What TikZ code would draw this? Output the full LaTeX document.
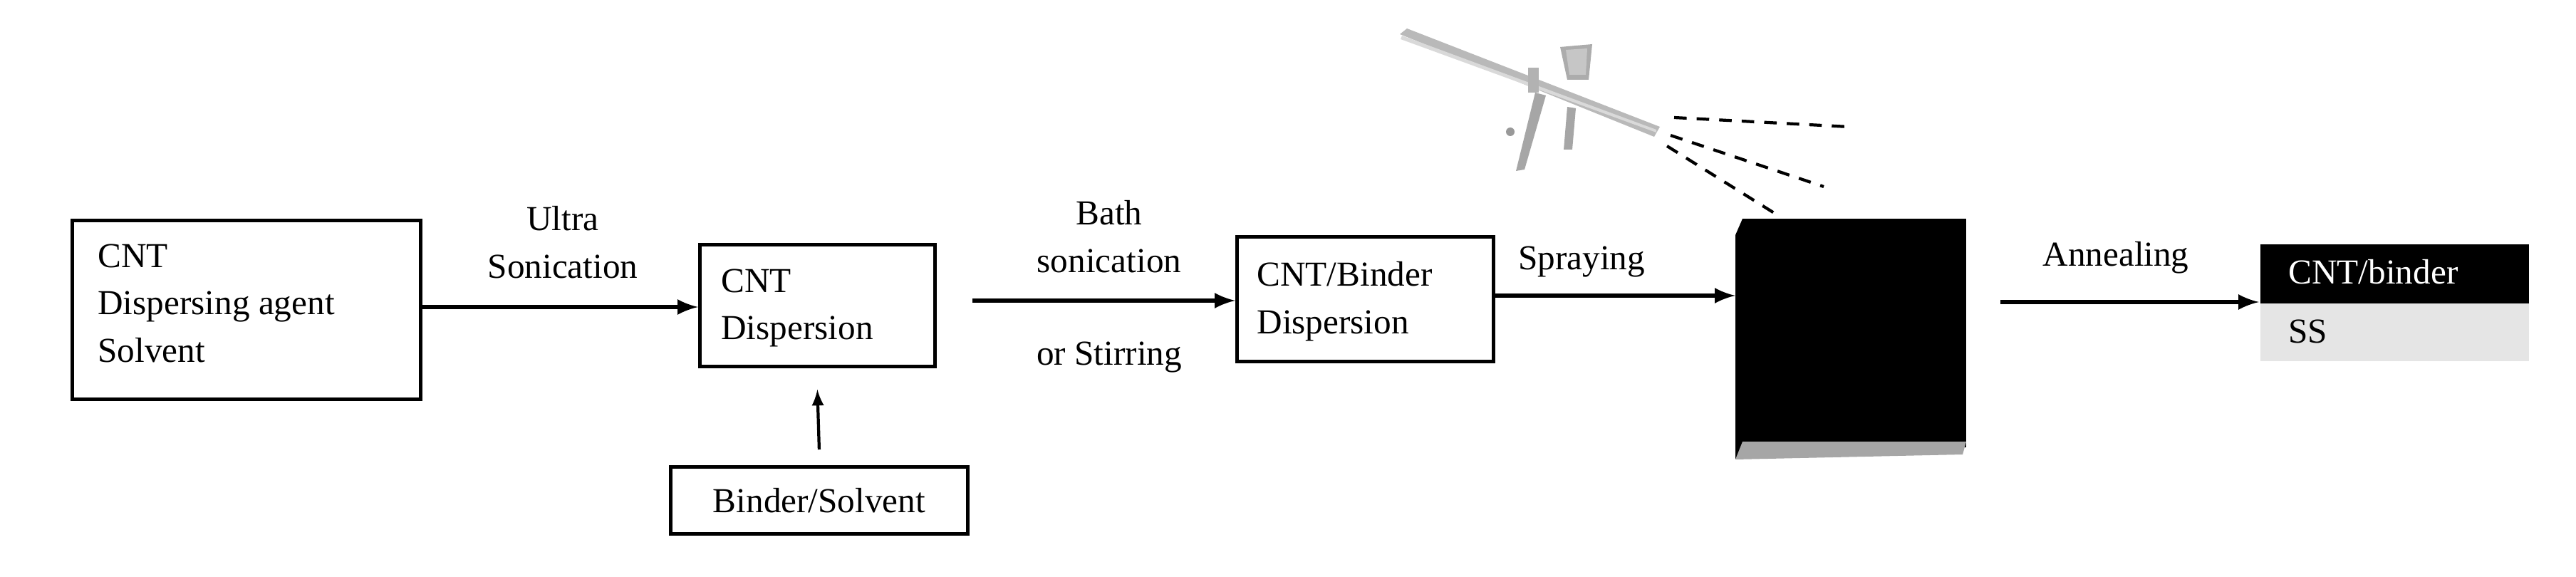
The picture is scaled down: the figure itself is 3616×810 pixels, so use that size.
\documentclass[tikz,border=0pt]{standalone}
\usepackage{fontspec}
\setmainfont{Liberation Serif}
\begin{document}
\begin{tikzpicture}[x=0.01cm,y=-0.01cm,
  box/.style={draw,line width=1.3pt,inner sep=0pt,anchor=north west},
  lbl/.style={font=\fontsize{14}{19}\selectfont,align=left},
  arr/.style={-latex,line width=1.8pt},
  spray/.style={line width=1.2pt,dash pattern=on 5pt off 4pt}]
\useasboundingbox (0,0) rectangle (3616,810);
% boxes
\node[box,minimum width=4.89cm,minimum height=2.51cm] (b1) at (99,307) {};
\node[lbl,anchor=north west] at (125,330) {CNT\\Dispersing agent\\Solvent};
\node[box,minimum width=3.30cm,minimum height=1.71cm] (b2) at (980,341) {};
\node[lbl,anchor=north west] at (1000,365) {CNT\\Dispersion};
\node[box,minimum width=4.17cm,minimum height=0.94cm] (b4) at (939,653) {};
\node[lbl] at (b4.center) {Binder/Solvent};
\node[box,minimum width=3.60cm,minimum height=1.75cm] (b3) at (1734,330) {};
\node[lbl,anchor=north west] at (1752,355) {CNT/Binder\\Dispersion};
% black substrate
\fill (2446,307) rectangle (2760,628);
\fill (2446,307) -- (2436,330) -- (2436,645) -- (2446,628) -- cycle;
\fill[gray!70] (2446,620) -- (2760,620) -- (2755,638) -- (2436,645) -- cycle;
\coordinate (sub) at (2436,430);
% layers
\node[box,draw=none,fill=black,minimum width=3.76cm,minimum height=0.83cm] (l1) at (3171,341) {};
\node[lbl,text=white,anchor=west] at (3200,382) {CNT/binder};
\node[box,draw=none,fill=gray!20,minimum width=3.76cm,minimum height=0.81cm] (l2) at (3171,424) {};
\node[lbl,anchor=west] at (3200,465) {SS};
% arrows
\draw[arr] (b1.east |- 0,431) -- (b2.west |- 0,431);
\node[lbl,align=center] at (790,340) {Ultra\\Sonication};
\draw[-latex,line width=1.2pt] ([yshift=0.22cm]b4.north) -- ([yshift=-0.30cm]b2.south);
\draw[arr] (1365,422) -- (b3.west |- 0,422);
\node[lbl,align=center] at (1557,332) {Bath\\sonication};
\node[lbl] at (1557,502) {or Stirring};
\draw[arr] (b3.east |- 0,415) -- (sub |- 0,415);
\node[lbl] at (2220,368) {Spraying};
\draw[arr] (2808,424) -- (l1.west |- 0,424);
\node[lbl] at (2970,362) {Annealing};
% airbrush
\fill[gray!55] (1965,48) -- (1975,40) -- (2330,178) -- (2322,192) -- cycle;
\fill[gray!30] (1968,50) -- (2325,182) -- (2325,186) -- (1966,55) -- cycle;
\fill[gray!65] (2190,66) -- (2235,62) -- (2230,112) -- (2200,112) -- cycle;
\fill[gray!45] (2198,70) -- (2228,68) -- (2226,105) -- (2203,105) -- cycle;
\fill[gray!70] (2155,130) -- (2170,134) -- (2140,238) -- (2128,240) -- cycle;
\fill[gray!60] (2145,95) rectangle (2160,130);
\fill[gray!70] (2200,150) -- (2212,152) -- (2207,210) -- (2195,210) -- cycle;
\fill[gray!80] (2120,185) circle (6);
\draw[spray] (2350,165) -- (2595,178);
\draw[spray] (2345,190) -- (2560,262);
\draw[spray] (2340,205) -- (2500,305);
\end{tikzpicture}
\end{document}
